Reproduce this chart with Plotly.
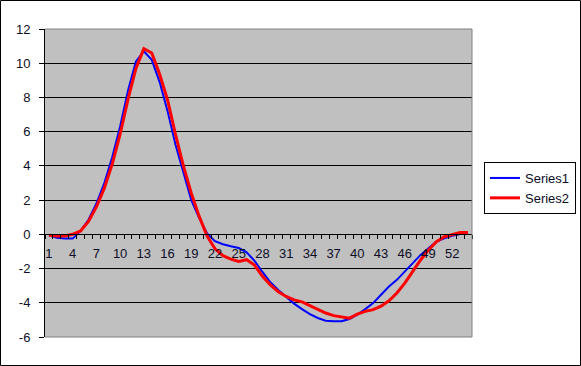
import plotly.graph_objects as go

categories = list(range(1, 55))
series1 = [-0.05, -0.2, -0.25, -0.25, 0.2, 0.85, 1.8, 3.0, 4.5, 6.3,
           8.4, 10.1, 10.7, 10.2, 8.9, 7.2, 5.25, 3.6, 2.0, 0.95,
           0.05, -0.4, -0.58, -0.7, -0.8, -1.05, -1.55, -2.2, -2.8, -3.25,
           -3.68, -4.05, -4.37, -4.66, -4.89, -5.05, -5.08, -5.08, -4.95, -4.7,
           -4.37, -4.02, -3.53, -3.05, -2.66, -2.17, -1.69, -1.2, -0.82, -0.43,
           -0.23, -0.08, 0.02, 0.08]
series2 = [-0.05, -0.1, -0.1, 0.0, 0.2, 0.75, 1.6, 2.7, 4.1, 5.85,
           7.9, 9.7, 10.85, 10.6, 9.35, 7.85, 5.85, 4.0, 2.4, 1.05,
           -0.1, -0.85, -1.25, -1.45, -1.58, -1.48, -1.8, -2.45, -2.95, -3.35,
           -3.63, -3.83, -3.95, -4.17, -4.4, -4.6, -4.75, -4.83, -4.9, -4.66,
           -4.5, -4.4, -4.2, -3.88, -3.43, -2.85, -2.17, -1.5, -0.91, -0.43,
           -0.14, 0.0, 0.1, 0.1]
x_tick_labels = categories[::3]
y_ticks = list(range(-6, 13, 2))

W, H = 581, 366
ML, MR, MT, MB = 45, 109, 29, 29
PW, PH = W - ML - MR, H - MT - MB
FONT = "Liberation Sans, Arial, sans-serif"
TXT = "#0d0d26"

fig = go.Figure()
fig.add_trace(go.Scatter(x=categories, y=series1, mode="lines", name="Series1",
                         line=dict(color="#0000ff", width=2)))
fig.add_trace(go.Scatter(x=categories, y=series2, mode="lines", name="Series2",
                         line=dict(color="#ff0000", width=3)))

ymin, ymax = y_ticks[0], y_ticks[-1]
fig.update_layout(
    width=W, height=H,
    margin=dict(l=ML, r=MR, t=MT, b=MB, autoexpand=False),
    paper_bgcolor="white", plot_bgcolor="#c0c0c0",
    font=dict(family=FONT, size=13, color=TXT),
    showlegend=True,
    legend=dict(x=(484 - ML) / PW, y=1 - (162 - MT) / PH, xanchor="left", yanchor="top",
                bgcolor="white", bordercolor="black", borderwidth=1,
                tracegroupgap=0,
                font=dict(family=FONT, size=13, color=TXT)),
    xaxis=dict(range=[0.5, len(categories) + 0.5], anchor="free",
               position=(0 - ymin) / (ymax - ymin),
               showgrid=False, zeroline=False, showline=True, linecolor="black", linewidth=1,
               tickmode="array", tickvals=x_tick_labels, ticktext=[str(v) for v in x_tick_labels],
               ticks="", ticklabelstandoff=7,
               minor=dict(tickmode="array",
                          tickvals=[c - 0.5 for c in categories] + [categories[-1] + 0.5],
                          ticks="outside", ticklen=4, tickcolor="black", showgrid=False),
               tickfont=dict(family=FONT, size=13, color=TXT), fixedrange=True),
    yaxis=dict(range=[ymin, ymax], tickmode="array", tickvals=y_ticks,
               ticktext=[str(v) for v in y_ticks],
               showgrid=True, gridcolor="black", gridwidth=1, zeroline=False,
               showline=True, linecolor="black", linewidth=1,
               ticks="outside", ticklen=5, tickcolor="black", ticklabelstandoff=6,
               tickfont=dict(family=FONT, size=13, color=TXT)),
)

# plot-area border (gray) top, right, bottom
for x0, y0, x1, y1 in [(0, 1, 1, 1), (1, 0, 1, 1), (0, 0, 1, 0)]:
    fig.add_shape(type="line", xref="paper", yref="paper", x0=x0, y0=y0, x1=x1, y1=y1,
                  line=dict(color="#808080", width=1), layer="above")
# outer chart border
fig.add_shape(type="rect", xref="paper", yref="paper",
              x0=(0.5 - ML) / PW, x1=(W - 0.5 - ML) / PW,
              y0=1 - (H - 0.5 - MT) / PH, y1=1 - (0.5 - MT) / PH,
              line=dict(color="black", width=1), fillcolor="rgba(0,0,0,0)", layer="above")

fig.write_html("out.html")
